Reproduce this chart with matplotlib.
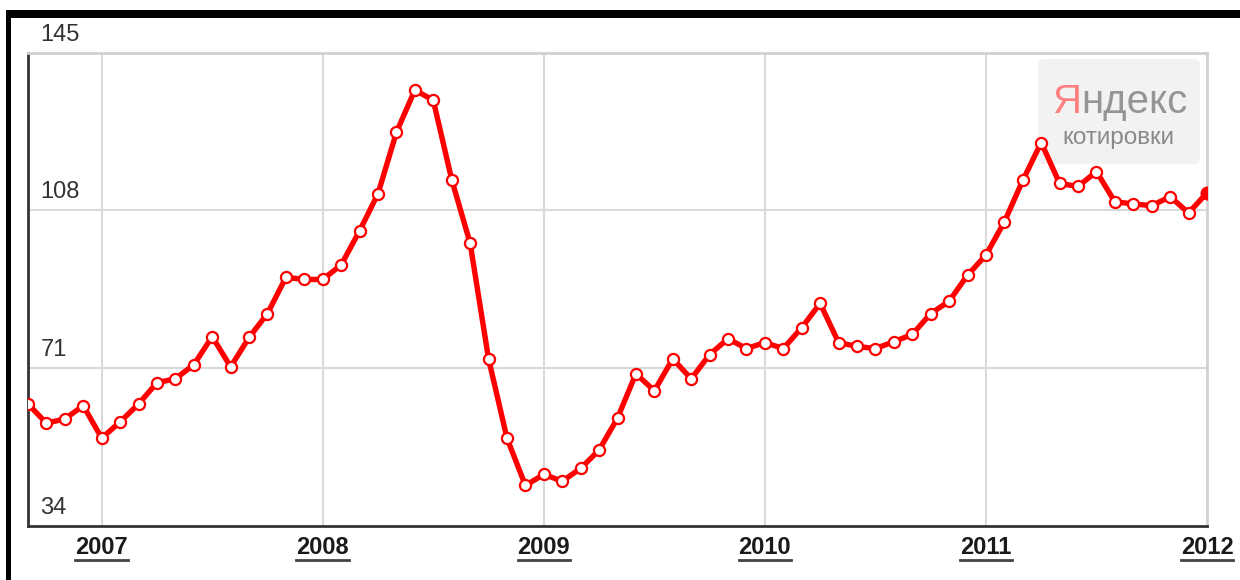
import numpy as np
import matplotlib
matplotlib.use('Agg')
import matplotlib.pyplot as plt
from matplotlib.patches import Rectangle, FancyBboxPatch
from matplotlib.lines import Line2D
from matplotlib.transforms import IdentityTransform

W, H = 1240, 580

# monthly quotes, Sep 2006 .. Jan 2012
start_year = 2006
start_month = 9
values = [62.6, 58.1, 59.1, 62.2,
          54.6, 58.4, 62.6, 67.6, 68.5, 71.8, 78.4, 71.3, 78.2, 83.8, 92.3, 91.8,
          91.8, 95.2, 103.2, 111.9, 126.3, 136.2, 133.8, 115.2, 100.3, 73.2, 54.6, 43.5,
          46.1, 44.5, 47.5, 51.8, 59.3, 69.7, 65.7, 73.2, 68.5, 74.2, 77.9, 75.6,
          77.0, 75.6, 80.5, 86.2, 77.0, 76.1, 75.6, 77.2, 78.9, 83.8, 86.7, 92.8,
          97.5, 105.3, 115.0, 123.9, 114.3, 113.6, 117.1, 110.0, 109.5, 109.1, 111.2, 107.4,
          112.1]
years = [2007, 2008, 2009, 2010, 2011, 2012]
y_ticks = [34, 71, 108, 145]

plt.rcParams['font.family'] = ['Liberation Sans', 'DejaVu Sans']

x = start_year + (start_month - 1) / 12 + np.arange(len(values)) / 12

fig = plt.figure(figsize=(W / 100, H / 100), dpi=100)
fig.patch.set_facecolor('white')

# black frame of the screenshot (top and left)
fig.patches.append(Rectangle((10, H - 18), W - 10, 8, transform=IdentityTransform(),
                             facecolor='black', edgecolor='none', zorder=0))
fig.patches.append(Rectangle((6, 0), 5, H - 10, transform=IdentityTransform(),
                             facecolor='black', edgecolor='none', zorder=0))

ax = fig.add_axes([28 / W, 1 - 526 / H, (1207 - 28) / W, (526 - 52.5) / H])
ax.set_xlim(x[0], years[-1])
ax.set_ylim(y_ticks[0], y_ticks[-1])

for yr in years[:-1]:
    ax.axvline(yr, color='#d9d9d9', lw=1.5, zorder=1)
for v in y_ticks[1:-1]:
    ax.axhline(v, color='#d9d9d9', lw=1.5, zorder=1)

for side in ['top', 'right']:
    ax.spines[side].set_color('#d0d0d0')
    ax.spines[side].set_linewidth(2)
for side in ['left', 'bottom']:
    ax.spines[side].set_color('#333333')
    ax.spines[side].set_linewidth(2)
ax.set_xticks([])
ax.set_yticks([])

# Yandex logo box (under the line)
logo = FancyBboxPatch((1038, H - 164), 162, 105, transform=IdentityTransform(),
                      boxstyle='round,pad=0,rounding_size=6',
                      facecolor='#f2f2f2', edgecolor='none', zorder=2)
ax.add_artist(logo)

ax.plot(x, values, color='#ff0000', lw=3.9, marker='o', markersize=8,
        markerfacecolor='white', markeredgecolor='#ff0000', markeredgewidth=1.6,
        zorder=4, solid_joinstyle='round')
ax.plot(x[-1], values[-1], marker='o', markersize=9, color='#ff0000', zorder=5)

# y labels sit above their gridlines
for v in y_ticks:
    ax.annotate(str(v), xy=(x[0], v), xytext=(9, 5), textcoords='offset points',
                ha='left', va='bottom', fontsize=17, color='#333333',
                annotation_clip=False)

# year labels, bold and underlined
year_texts = []
for yr in years:
    t = ax.annotate(str(yr), xy=(yr, y_ticks[0]), xytext=(0, -7), textcoords='offset points',
                    ha='center', va='top', fontsize=17, fontweight='bold', color='#1a1a1a',
                    annotation_clip=False)
    year_texts.append(t)

ya = ax.text(1052, H - 113, 'Я', fontsize=29, color='#ff8080',
             transform=IdentityTransform(), zorder=3)
fig.canvas.draw()
rend = fig.canvas.get_renderer()
bb = ya.get_window_extent(rend)
ax.text(bb.x1, H - 113, 'ндекс', fontsize=29, color='#959595',
        transform=IdentityTransform(), zorder=3)
ax.text(1118, H - 138, 'котировки', fontsize=17.5, color='#8a8a8a',
        ha='center', va='center', transform=IdentityTransform(), zorder=3)

fig.canvas.draw()
for t in year_texts:
    b = t.get_window_extent(rend)
    fig.lines.append(Line2D([b.x0, b.x1], [b.y0 - 1, b.y0 - 1], transform=IdentityTransform(),
                            color='#444444', lw=2))

fig.savefig('out.png', dpi=100)
